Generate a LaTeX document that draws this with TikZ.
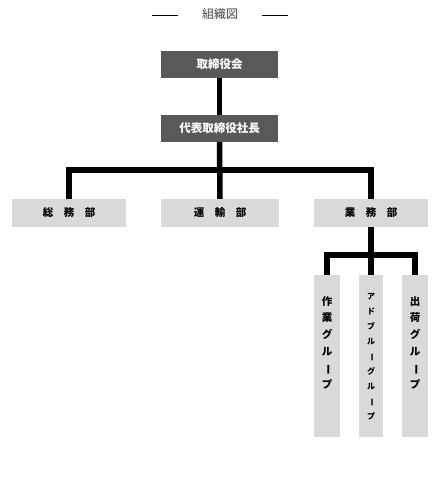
\documentclass[tikz,border=0pt]{standalone}
\usepackage{fontspec}
\usepackage{graphicx}
\newfontfamily\cjk{Noto Sans CJK JP}
\definecolor{darkbox}{HTML}{595959}
\definecolor{lightbox}{HTML}{D9D9D9}
\definecolor{titlegray}{HTML}{404040}
\newcommand{\vbar}{\rotatebox[origin=c]{-90}{ー}}
\begin{document}
\begin{tikzpicture}[x=1pt,y=-1pt,
  topbox/.style={fill=darkbox,draw=none,inner sep=0pt,minimum width=117pt,minimum height=27pt,text=white,font=\cjk\bfseries\fontsize{11.5}{13}\selectfont},
  deptbox/.style={fill=lightbox,draw=none,inner sep=0pt,minimum height=28pt,font=\cjk\bfseries\fontsize{10.5}{12}\selectfont},
  grpbox/.style={fill=lightbox,draw=none,inner sep=0pt,minimum height=162pt},
  vtext/.style={anchor=north,inner sep=0pt,align=center},
  conn/.style={line width=5.5pt,draw=black,line join=miter},
  titleline/.style={line width=0.9pt,draw=black}]
\useasboundingbox (0,0) rectangle (444,477);
% title
\node[text=titlegray,font=\cjk\fontsize{12}{14}\selectfont] (title) at (220,14) {組織図};
\coordinate (tl1) at (152,15); \coordinate (tl2) at (178,15);
\coordinate (tr1) at (262,15); \coordinate (tr2) at (288,15);
\draw[titleline] (tl1) -- (tl2);
\draw[titleline] (tr1) -- (tr2);
% boxes
\node[topbox] (board) at (219.5,64.5) {取締役会};
\node[topbox] (ceo) at (219.5,128.5) {代表取締役社長};
\node[deptbox,minimum width=114pt] (d1) at (69,213) {総\hspace{1em}務\hspace{1em}部};
\node[deptbox,minimum width=118pt] (d2) at (220,213) {運\hspace{1em}輸\hspace{1em}部};
\node[deptbox,minimum width=114pt] (d3) at (371,213) {業\hspace{1em}務\hspace{1em}部};
\node[grpbox,minimum width=26pt] (g1) at (327,356) {};
\node[grpbox,minimum width=24pt] (g2) at (371,356) {};
\node[grpbox,minimum width=26pt] (g3) at (415,356) {};
\node[vtext,font=\cjk\bfseries\fontsize{10.5}{16.7}\selectfont] (g1t) at (327,296) {作\\業\\グ\\ル\\\vbar\\プ};
\node[vtext,font=\cjk\bfseries\fontsize{8}{14.9}\selectfont] (g2t) at (371,293.5) {ア\\ド\\ブ\\ル\\\vbar\\グ\\ル\\\vbar\\プ};
\node[vtext,font=\cjk\bfseries\fontsize{10.5}{16.7}\selectfont] (g3t) at (415,296) {出\\荷\\グ\\ル\\\vbar\\プ};
% connectors
\coordinate (bus) at (220,170);
\coordinate (bus2) at (371,255);
\draw[conn] (board.south) -- (ceo.north);
\draw[conn] (ceo.south) -- (d2.north);
\draw[conn] (d1.north) |- (bus) -| (d3.north);
\draw[conn] (d3.south) -- (g2.north);
\draw[conn] (g1.north) |- (bus2) -| (g3.north);
\end{tikzpicture}
\end{document}
